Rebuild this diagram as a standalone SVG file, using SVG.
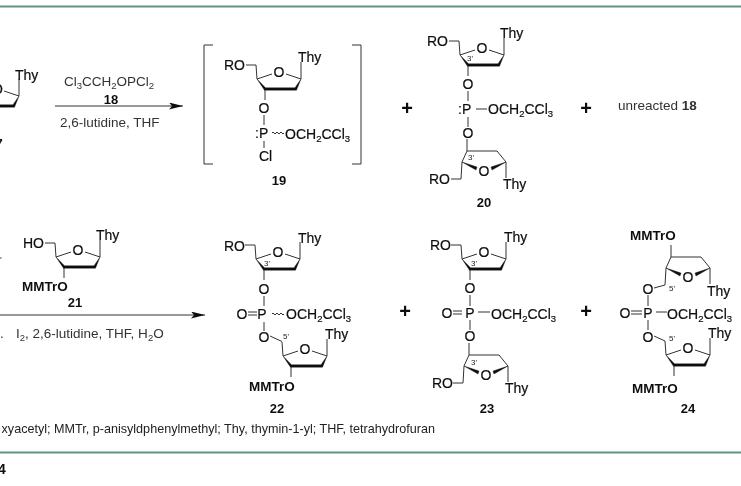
<svg xmlns="http://www.w3.org/2000/svg" width="741" height="486" viewBox="0 0 741 486">
<style>
text{font-family:"Liberation Sans",Arial,sans-serif;fill:#111}
.a{font-size:14px;stroke:#111;stroke-width:.2}
.b{font-size:13px;font-weight:bold;text-anchor:middle}
.m{font-size:13.500px;font-weight:bold}
.r{font-size:13.500px;fill:#333}
.s{font-size:8px;fill:#222}
.f{font-size:12.600px;fill:#222}
.p{font-size:20px;font-weight:bold;text-anchor:middle}
.l{fill:none;stroke:#333;stroke-width:1}
.k{fill:#111;stroke:#111;stroke-width:.4;stroke-linejoin:round}
.g{stroke:#5f9483;stroke-width:2;fill:none}
.u{font-size:9.500px}
.c{text-anchor:middle}
</style>
<defs>
<filter id="soft" x="0" y="0" width="100%" height="100%"><feGaussianBlur stdDeviation="0.35"/></filter>
<marker id="ah" markerWidth="15" markerHeight="8" refX="14" refY="3.500" orient="auto" markerUnits="userSpaceOnUse"><path d="M0 0L14 3.500L0 7L3 3.500Z" fill="#111"/></marker>
<g id="up"><path class="l" d="M-23-7L-22 7L-7 2M7 2L22 7V-10M-14 17V28"/><path class="k" d="M-22 7L-14.500 18.200H17.500L22 7L16 15.800H-13.500Z"/></g>
<g id="dn"><path class="l" d="M-23 8L-22-9L-17-20H13L22-9V7M-17-20V-32"/><path class="k" d="M-22-9L-7-4L-8-1ZM22-9L7-4L8-1Z"/></g>
<path id="wave" class="l" d="M0 0q1-2 2 0t2 0t2 0t2 0t2 0t2 0"/>
</defs>
<g filter="url(#soft)">
<rect width="741" height="486" fill="#fff"/>
<path class="g" d="M0 6.500H741M0 452.500H741"/>
<g id="connectors">
<path class="l" d="M55 106H183" marker-end="url(#ah)"/>
<path class="l" d="M0 315H205" marker-end="url(#ah)"/>
<path class="l" d="M213 45H204V164H213M352 45H361V164H352"/>
<path class="l" d="M0 258H1.500"/>
</g>
<g id="node-17"><use href="#up" x="-3" y="89"/><text class="a" x="15" y="80">Thy</text><text class="a" x="-8" y="94">O</text><text class="b" x="-1" y="148">7</text></g>
<g id="reagents-1"><text class="r" x="64" y="86">Cl<tspan class="u" dy="3">3</tspan><tspan dy="-3">CCH</tspan><tspan class="u" dy="3">2</tspan><tspan dy="-3">OPCl</tspan><tspan class="u" dy="3">2</tspan></text><text class="b" x="111" y="104">18</text><text class="r" x="60" y="127">2,6-lutidine, THF</text></g>
<g id="node-19"><use href="#up" x="279" y="72"/><path class="l" d="M246 65H256"/><text class="a c" x="279" y="77">O</text><text class="a" x="224" y="70">RO</text><text class="a" x="298" y="62">Thy</text><text class="a c" x="264" y="113">O</text><text class="a" x="255" y="138">:P</text><path class="l" d="M264 115V125M264 141V148"/><use href="#wave" x="272" y="133"/><text class="a" x="285" y="139">OCH<tspan class="u" dy="3">2</tspan><tspan dy="-3">CCl</tspan><tspan class="u" dy="3">3</tspan></text><text class="a" x="259" y="161">Cl</text><text class="b" x="279" y="185">19</text></g>
<g id="node-20"><use href="#up" x="482" y="48"/><path class="l" d="M449 41H459"/><text class="a c" x="482" y="53">O</text><text class="a" x="427" y="46">RO</text><text class="a" x="500" y="38">Thy</text><text class="s" x="467" y="61">3'</text><text class="a c" x="468" y="89">O</text><text class="a" x="458" y="114">:P</text><path class="l" d="M468 91V101M476 109H487M468 117V127"/><text class="a" x="488" y="114">OCH<tspan class="u" dy="3">2</tspan><tspan dy="-3">CCl</tspan><tspan class="u" dy="3">3</tspan></text><text class="a c" x="468" y="138">O</text><use href="#dn" x="484" y="171"/><path class="l" d="M451 179H461"/><text class="a c" x="484" y="176">O</text><text class="a" x="429" y="184">RO</text><text class="a" x="503" y="189">Thy</text><text class="s" x="468" y="160">3'</text><text class="b" x="484" y="207">20</text></g>
<g id="unreacted"><text class="r" x="618" y="110">unreacted <tspan font-weight="bold">18</tspan></text></g>
<g id="node-21"><use href="#up" x="78" y="250"/><path class="l" d="M45 243H55"/><text class="a c" x="78" y="255">O</text><text class="a" x="23" y="248">HO</text><text class="a" x="96" y="240">Thy</text><text class="m" x="22" y="291">MMTrO</text><text class="b" x="75" y="307">21</text></g>
<g id="reagents-2"><text class="r" x="0" y="338">.</text><text class="r" x="16" y="338">I<tspan class="u" dy="3">2</tspan><tspan dy="-3">, 2,6-lutidine, THF, H</tspan><tspan class="u" dy="3">2</tspan><tspan dy="-3">O</tspan></text></g>
<g id="node-22"><use href="#up" x="278" y="252"/><path class="l" d="M245 245H255"/><text class="a c" x="278" y="257">O</text><text class="a" x="224" y="251">RO</text><text class="a" x="298" y="243">Thy</text><text class="s" x="264" y="266">3'</text><text class="a c" x="264" y="294">O</text><text class="a c" x="242" y="319">O</text><path class="l" d="M264 296V306M248 312H257M248 315H257M264 322V331M270 336L282 341.500"/><text class="a c" x="262" y="319">P</text><use href="#wave" x="272" y="314"/><text class="a" x="286" y="319">OCH<tspan class="u" dy="3">2</tspan><tspan dy="-3">CCl</tspan><tspan class="u" dy="3">3</tspan></text><text class="a c" x="264" y="342">O</text><text class="s" x="283" y="339">5'</text><use href="#up" x="305" y="349"/><text class="a c" x="305" y="354">O</text><text class="a" x="325" y="339">Thy</text><text class="m" x="249" y="391">MMTrO</text><text class="b" x="277" y="413">22</text></g>
<g id="node-23"><use href="#up" x="484" y="252"/><path class="l" d="M451 245H461"/><text class="a c" x="484" y="257">O</text><text class="a" x="430" y="250">RO</text><text class="a" x="504" y="242">Thy</text><text class="s" x="471" y="266">3'</text><text class="a c" x="470" y="293">O</text><text class="a c" x="447" y="318">O</text><path class="l" d="M470 295V306M453 311H462M453 314H462M478 312H490M470 320V330"/><text class="a c" x="470" y="318">P</text><text class="a" x="491" y="319">OCH<tspan class="u" dy="3">2</tspan><tspan dy="-3">CCl</tspan><tspan class="u" dy="3">3</tspan></text><text class="a c" x="470" y="341">O</text><use href="#dn" x="486" y="375"/><path class="l" d="M453 383H463"/><text class="a c" x="486" y="380">O</text><text class="a" x="432" y="388">RO</text><text class="a" x="505" y="393">Thy</text><text class="s" x="471" y="365">3'</text><text class="b" x="487" y="413">23</text></g>
<g id="node-24"><text class="m" x="630" y="240">MMTrO</text><use href="#dn" x="688" y="277"/><text class="a c" x="688" y="282">O</text><text class="a" x="707" y="296">Thy</text><text class="a c" x="648" y="294">O</text><path class="l" d="M654 288L665 285"/><text class="s" x="669" y="291">5'</text><text class="a c" x="625" y="318">O</text><path class="l" d="M648 295V306M631 311H642M631 314H642M656 312H667M648 320V330M654 336L665 341"/><text class="a c" x="648" y="318">P</text><text class="a" x="667" y="319">OCH<tspan class="u" dy="3">2</tspan><tspan dy="-3">CCl</tspan><tspan class="u" dy="3">3</tspan></text><text class="a c" x="648" y="342">O</text><text class="s" x="669" y="341">5'</text><use href="#up" x="688" y="348"/><text class="a c" x="688" y="353">O</text><text class="a" x="708" y="338">Thy</text><text class="m" x="632" y="393">MMTrO</text><text class="b" x="688" y="413">24</text></g>
<g id="plus"><text class="p" x="407" y="115">+</text><text class="p" x="586" y="115">+</text><text class="p" x="405" y="318">+</text><text class="p" x="586" y="318">+</text></g>
<g id="footer"><text class="f" x="435" y="433" text-anchor="end">xyacetyl; MMTr, p-anisyldphenylmethyl; Thy, thymin-1-yl; THF, tetrahydrofuran</text><text x="-2" y="474" font-size="14" font-weight="bold">4</text></g>
</g>
</svg>
